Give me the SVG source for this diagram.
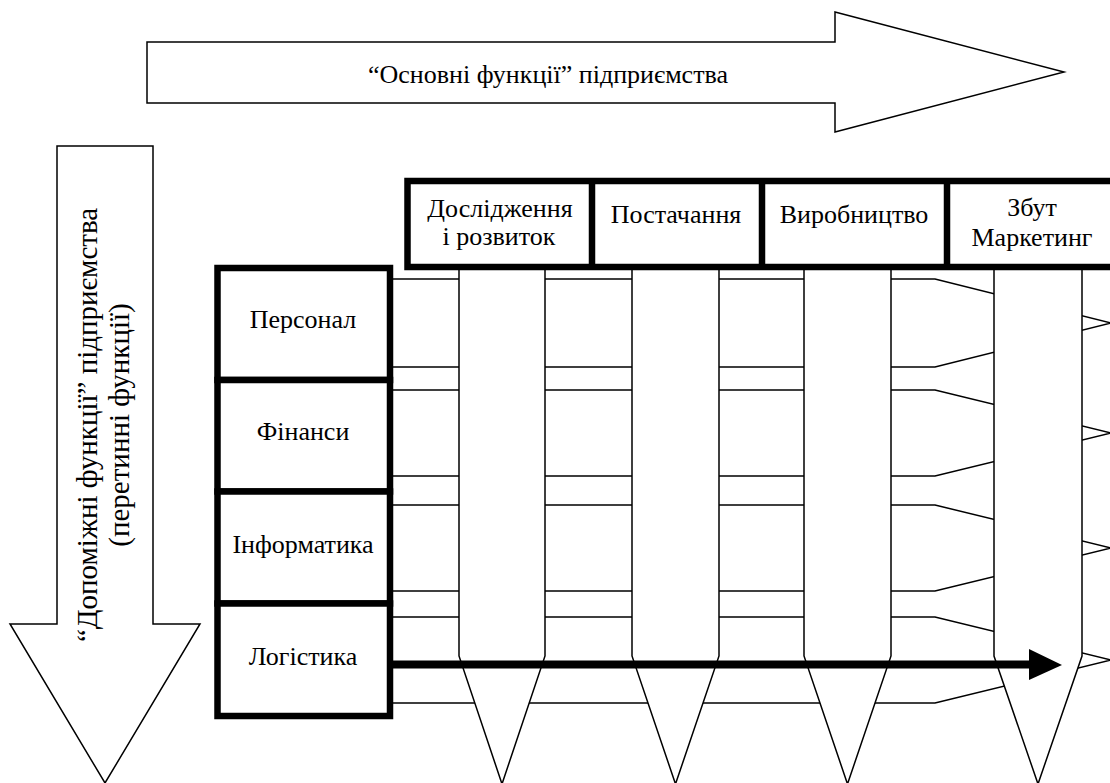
<svg xmlns="http://www.w3.org/2000/svg" width="1110" height="783" viewBox="0 0 1110 783">
<style>
.thin{fill:#fff;stroke:#000;stroke-width:1.5;stroke-linejoin:miter}
.box{fill:#fff;stroke:#000;stroke-width:6.5}
.t{font-family:"Liberation Serif","Times New Roman",serif;font-size:26px;fill:#000;text-anchor:middle}
.r{font-size:29px}
</style>
<rect width="1110" height="783" fill="#fff"/>
<g id="main-functions-arrow">
<path class="thin" d="M147,42 L835,42 L835,12 L1064,72 L835,132 L835,103 L147,103 Z"/>
<text class="t" x="548" y="83">“Основні функції” підприємства</text>
</g>
<g id="support-functions-arrow">
<path class="thin" d="M57,146 L153,146 L153,624 L200,624 L105,783 L10,624 L57,624 Z"/>
<text class="t r" transform="translate(97,425) rotate(-90)">“Допоміжні функції” підприємства</text>
<text class="t r" transform="translate(129,425) rotate(-90)">(перетинні функції)</text>
</g>
<g id="connectors">
<path id="band-personal" class="thin" d="M392,279 L935,279 L1111,323 L935,367 L392,367 Z"/>
<path id="band-finance" class="thin" d="M392,390 L935,390 L1111,433 L935,476 L392,476 Z"/>
<path id="band-informatics" class="thin" d="M392,505 L935,505 L1111,548 L935,591 L392,591 Z"/>
<path id="band-logistics" class="thin" d="M392,617 L935,617 L1111,660 L935,703 L392,703 Z"/>
<path id="col-research" class="thin" d="M459,262 L545,262 L545,656 L502,784 L459,656 Z"/>
<path id="col-supply" class="thin" d="M632,262 L719,262 L719,656 L675.5,784 L632,656 Z"/>
<path id="col-production" class="thin" d="M804,262 L891,262 L891,656 L847.5,784 L804,656 Z"/>
<path id="col-sales" class="thin" d="M994,262 L1082,262 L1082,656 L1038,784 L994,656 Z"/>
</g>
<g id="header">
<rect class="box" x="407.5" y="181" width="720" height="86"/>
<line class="box" x1="592" y1="181" x2="592" y2="267"/>
<line class="box" x1="762" y1="181" x2="762" y2="267"/>
<line class="box" x1="947" y1="181" x2="947" y2="267"/>
</g>
<g id="node-research"><text class="t" x="500" y="217">Дослідження</text><text class="t" x="499" y="245">і розвиток</text></g>
<g id="node-supply"><text class="t" x="676" y="223">Постачання</text></g>
<g id="node-production"><text class="t" x="854" y="223">Виробництво</text></g>
<g id="node-sales"><text class="t" x="1032" y="216">Збут</text><text class="t" x="1032" y="246">Маркетинг</text></g>
<g id="node-personnel"><rect class="box" x="217.5" y="268" width="172.5" height="112"/><text class="t" x="303" y="328">Персонал</text></g>
<g id="node-finance"><rect class="box" x="217.5" y="380" width="172.5" height="111.5"/><text class="t" x="303" y="440">Фінанси</text></g>
<g id="node-informatics"><rect class="box" x="217.5" y="491.5" width="172.5" height="112"/><text class="t" x="303" y="553">Інформатика</text></g>
<g id="node-logistics"><rect class="box" x="217.5" y="603.5" width="172.5" height="112.5"/><text class="t" x="303" y="665">Логістика</text></g>
<g id="logistics-flow">
<line x1="390" y1="664.5" x2="1032" y2="664.5" stroke="#000" stroke-width="8"/>
<path d="M1029,649 L1062,665 L1029,680 Z" fill="#000"/>
</g>
</svg>
